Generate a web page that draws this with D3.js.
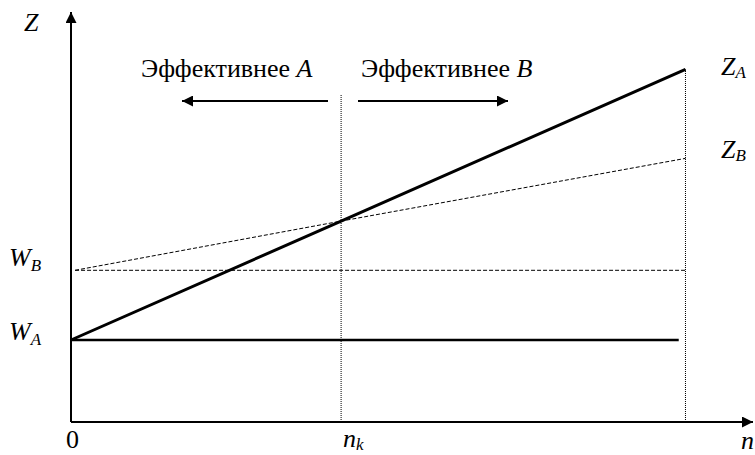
<!DOCTYPE html>
<html>
<head>
<meta charset="utf-8">
<script src="https://cdn.jsdelivr.net/npm/d3@7"></script>
<style>
  body { margin: 0; background: #fff; font-family: "Liberation Serif"; }
  svg, text, tspan { font-family: "Liberation Serif"; }
</style>
</head>
<body>
<div id="chart"></div>
<script>
// ДАННЫЕ (условные единицы)
const nPoints = [0, 4, 9.1];          // 0, n_k, конец
const zA = [2.0, 4.9, 8.6];           // Z_A: от W_A вверх
const zB = [3.7, 4.9, 6.43];          // Z_B: от W_B вверх
const wA = 2.0;
const wB = 3.7;
const nk = 4;
const nEnd = 9.1;
const nMax = 10.1;
const zMax = 10;
const arrowLabels = ["Эффективнее ", "Эффективнее "];
const arrowLetters = ["A", "B"];

const W = 755, H = 455;
const FONT = '"Liberation Serif"';
const fs = 26;

const svg = d3.select("#chart").append("svg")
    .attr("width", W)
    .attr("height", H)
    .style("font-family", FONT);

const defs = svg.append("defs");
defs.append("marker")
    .attr("id", "arr")
    .attr("viewBox", "0 0 10 10")
    .attr("refX", 10).attr("refY", 5)
    .attr("markerWidth", 11).attr("markerHeight", 11)
    .attr("markerUnits", "userSpaceOnUse")
    .attr("orient", "auto")
    .append("path").attr("d", "M0,0 L10,5 L0,10 Z").attr("fill", "#000");

// ШКАЛЫ
const x = d3.scaleLinear().domain([0, nMax]).range([71, 753]);
const y = d3.scaleLinear().domain([0, zMax]).range([422, 12]);

// ОСИ
svg.append("line")
    .attr("x1", x(0)).attr("y1", y(0)).attr("x2", x(0)).attr("y2", y(zMax))
    .attr("stroke", "#000").attr("stroke-width", 2).attr("marker-end", "url(#arr)");
svg.append("line")
    .attr("x1", x(0)).attr("y1", y(0)).attr("x2", x(nMax)).attr("y2", y(0))
    .attr("stroke", "#000").attr("stroke-width", 2).attr("marker-end", "url(#arr)");

// ВЕРТИКАЛЬНЫЕ ПУНКТИРЫ
svg.append("line")
    .attr("x1", x(nk)).attr("x2", x(nk)).attr("y1", y(0)).attr("y2", y(8.0))
    .attr("stroke", "#000").attr("stroke-width", 1).attr("stroke-dasharray", "1,1");
svg.append("line")
    .attr("x1", x(nEnd)).attr("x2", x(nEnd)).attr("y1", y(0)).attr("y2", y(zA[2]))
    .attr("stroke", "#000").attr("stroke-width", 1).attr("stroke-dasharray", "1,1");

const line = d3.line().x(d => x(d[0])).y(d => y(d[1]));

// W_B (пунктир) и Z_B
svg.append("path")
    .attr("d", line([[0.06, wB], [nEnd, wB]]))
    .attr("fill", "none").attr("stroke", "#000").attr("stroke-width", 1)
    .attr("stroke-dasharray", "4,2");
svg.append("path")
    .attr("d", line(nPoints.map((n, i) => [i === 0 ? 0.06 : n, zB[i]])))
    .attr("fill", "none").attr("stroke", "#000").attr("stroke-width", 1)
    .attr("stroke-dasharray", "4,2");

// W_A и Z_A
svg.append("path")
    .attr("d", line([[0, wA], [9.0, wA]]))
    .attr("fill", "none").attr("stroke", "#000").attr("stroke-width", 2.5);
svg.append("path")
    .attr("d", line(nPoints.map((n, i) => [n, zA[i]])))
    .attr("fill", "none").attr("stroke", "#000").attr("stroke-width", 3);

// СТРЕЛКИ "Эффективнее"
svg.append("line")
    .attr("x1", 328).attr("x2", 182).attr("y1", 101).attr("y2", 101)
    .attr("stroke", "#000").attr("stroke-width", 2).attr("marker-end", "url(#arr)");
svg.append("line")
    .attr("x1", 358).attr("x2", 508).attr("y1", 101).attr("y2", 101)
    .attr("stroke", "#000").attr("stroke-width", 2).attr("marker-end", "url(#arr)");

[[141, 77], [361, 77]].forEach((p, i) => {
    const t = svg.append("text").attr("x", p[0]).attr("y", p[1])
        .style("font-family", FONT).style("font-size", fs + "px");
    t.append("tspan").style("font-family", FONT).text(arrowLabels[i]);
    t.append("tspan").style("font-family", FONT).style("font-style", "italic").text(arrowLetters[i]);
});

// ПОДПИСИ
function label(px, py, main, sub, dy) {
    const t = svg.append("text").attr("x", px).attr("y", py)
        .style("font-family", FONT)
        .style("font-size", fs + "px").style("font-style", "italic");
    t.append("tspan").style("font-family", FONT).text(main);
    if (sub) t.append("tspan").attr("dy", dy).style("font-family", FONT)
        .style("font-size", "17px").text(sub);
}
label(24, 31, "Z");
label(9, 266, "W", "B", 5);
label(9, 340, "W", "A", 5);
label(721, 75, "Z", "A", 3);
label(721, 158, "Z", "B", 3);
label(741, 449, "n");
label(343, 447, "n", "k", 3);

svg.append("text").attr("x", 66).attr("y", 448)
    .style("font-family", FONT).style("font-size", fs + "px").text("0");
</script>
</body>
</html>
